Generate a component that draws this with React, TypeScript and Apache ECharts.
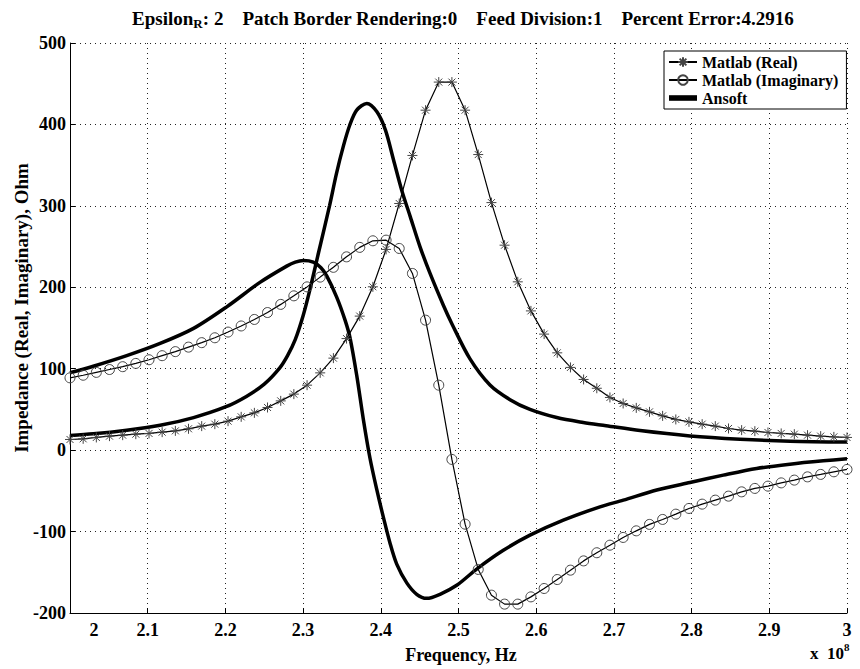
import React, { useEffect, useRef } from 'react';
import * as echarts from 'echarts';

// Frequency (x 1e8 Hz) of the Matlab samples
const matlabFreq = [
  2.0, 2.01695, 2.0339, 2.0508, 2.0678, 2.0847, 2.1017, 2.1186, 2.1356, 2.1525,
  2.1695, 2.1864, 2.2034, 2.2203, 2.2373, 2.2542, 2.2712, 2.2881, 2.3051, 2.322,
  2.339, 2.3559, 2.3729, 2.3898, 2.4068, 2.4237, 2.4407, 2.4576, 2.4746, 2.4915,
  2.5085, 2.5254, 2.5424, 2.5593, 2.5763, 2.5932, 2.6102, 2.6271, 2.6441, 2.661,
  2.678, 2.6949, 2.7119, 2.7288, 2.7458, 2.7627, 2.7797, 2.7966, 2.8136, 2.8305,
  2.8475, 2.8644, 2.8814, 2.8983, 2.9153, 2.9322, 2.9492, 2.9661, 2.9831, 3.0,
];
const matlabReal = [
  13.1, 13.9, 15.6, 17.2, 18.4, 19.6, 20.5, 22.1, 23.7, 26.2,
  29.5, 31.9, 35.6, 40.9, 45.8, 52.4, 60.5, 68.8, 79.8, 94.9,
  113, 137, 164.6, 200.6, 246.5, 302.9, 361.9, 417.5, 452, 452,
  417.5, 363, 304, 251.7, 206.7, 171, 142.5, 119.5, 101.6, 86.8,
  76, 64.7, 57.3, 51.9, 47, 42.1, 37.7, 34.7, 31.9, 29.5,
  26.6, 24.6, 23.3, 21.7, 20.5, 19.6, 18.4, 17.2, 16.3, 15.6,
];
const matlabImag = [
  88.8, 92, 95.5, 99, 102.5, 106.5, 111, 116, 121, 126.5,
  132, 138, 145, 152.5, 160.5, 169, 179, 189.5, 200.5, 212.5,
  224.5, 237.4, 249, 257.1, 257.9, 247.7, 217, 159.6, 79.8, -11.4,
  -90.9, -146.5, -178.1, -189.1, -189.1, -180.2, -169.9, -158.9, -147.4, -136,
  -126, -116.7, -107.2, -99.1, -91.2, -85.1, -78.6, -71.6, -66.3, -61.4,
  -56.5, -51.2, -47, -44.2, -40.2, -36.8, -32.8, -29.8, -26.6, -23.7,
];

const ansoftRealFreq = [
  2.0, 2.03, 2.073, 2.116, 2.159, 2.2, 2.227, 2.25, 2.27, 2.28,
  2.29, 2.3, 2.309, 2.32, 2.334, 2.343, 2.352, 2.36, 2.369, 2.382,
  2.395, 2.406, 2.4165, 2.427, 2.438, 2.4505, 2.4634, 2.4805, 2.4916, 2.5148,
  2.5405, 2.5663, 2.592, 2.6264, 2.6606, 2.69, 2.7336, 2.7979, 2.8623, 2.9266,
  3.0,
];
const ansoftReal = [
  18, 20, 24.5, 30.5, 40, 53, 66, 81, 101, 116,
  136, 165, 198, 243, 300, 340, 374, 399, 417.5, 425.8,
  415.5, 393, 356, 319, 286.5, 249.7, 217, 178, 155, 112,
  80, 62, 50, 40, 34, 30, 24, 17.5, 13.5, 11,
  10,
];
const ansoftImagFreq = [
  2.0, 2.03, 2.073, 2.116, 2.159, 2.2017, 2.2445, 2.2789, 2.29, 2.3003,
  2.3131, 2.323, 2.3304, 2.3432, 2.3539, 2.3604, 2.369, 2.3775, 2.3861, 2.3947,
  2.4032, 2.4118, 2.4205, 2.4334, 2.4462, 2.4591, 2.4762, 2.4977, 2.5234, 2.5577,
  2.592, 2.6349, 2.6821, 2.7121, 2.7551, 2.7979, 2.8408, 2.8838, 2.9266, 2.9695,
  3.0,
];
const ansoftImag = [
  95, 103, 116, 131, 149.5, 176, 206, 226, 231, 233,
  231, 224, 214, 188, 160, 138, 92, 38, -10, -48,
  -82, -114, -140, -163, -177, -182, -177, -166, -146, -123,
  -104.4, -86, -69.6, -61.4, -49, -39.7, -30.7, -22.5, -17.2, -13.1,
  -10.7,
];

const legendNames = ['Matlab (Real)', 'Matlab (Imaginary)', 'Ansoft'];
const titleText = ': 2    Patch Border Rendering:0    Feed Division:1    Percent Error:4.2916';
const xAxisTitle = 'Frequency, Hz';
const yAxisTitle = 'Impedance (Real, Imaginary), Ohm';

const FONT = '"Liberation Serif", "Times New Roman", serif';
const ASTERISK = 'path://M5,0L5,10M0,5L10,5M1.5,1.5L8.5,8.5M1.5,8.5L8.5,1.5';
const BAR = 'path://M0,0L20,0L20,4L0,4Z';

const zip = (xs: number[], ys: number[]) => xs.map((x, i) => [x, ys[i]]);

export default function App() {
  const ref = useRef<HTMLDivElement>(null);
  useEffect(() => {
    if (!ref.current) return;
    const chart = echarts.init(ref.current, undefined, { renderer: 'svg' });
    const axisText = { fontFamily: FONT, fontWeight: 'bold' as const, fontSize: 18, color: '#000' };
    chart.setOption({
      animation: false,
      backgroundColor: '#fff',
      grid: { left: 70, right: 13, top: 43, bottom: 56 },
      xAxis: {
        type: 'value',
        min: 2,
        max: 3,
        interval: 0.1,
        axisLine: { show: true, onZero: false, lineStyle: { color: '#000', width: 1 } },
        axisTick: { show: true, inside: true, length: 5, lineStyle: { color: '#000' } },
        axisLabel: {
          ...axisText,
          margin: 8,
          formatter: (v: number) => {
            const s = String(Math.round(v * 10) / 10);
            return Math.abs(v - 2) < 1e-9 ? '{f|' + s + '}' : s;
          },
          rich: { f: { ...axisText, padding: [0, 0, 0, 48] } },
        },
        splitLine: { show: true, lineStyle: { color: '#222', width: 1, type: [1, 4] } },
      },
      yAxis: {
        type: 'value',
        min: -200,
        max: 500,
        interval: 100,
        axisLine: { show: true, onZero: false, lineStyle: { color: '#000', width: 1 } },
        axisTick: { show: true, inside: true, length: 5, lineStyle: { color: '#000' } },
        axisLabel: { ...axisText, margin: 4 },
        splitLine: { show: true, lineStyle: { color: '#222', width: 1, type: [1, 4] } },
      },
      legend: {
        data: [
          { name: legendNames[0] },
          { name: legendNames[1] },
          { name: legendNames[2], icon: BAR },
        ],
        orient: 'vertical',
        left: 664,
        top: 51,
        itemGap: 2,
        itemWidth: 28,
        itemHeight: 12,
        padding: [3, 8, 3, 4],
        backgroundColor: '#fff',
        borderColor: '#000',
        borderWidth: 1,
        textStyle: { fontFamily: FONT, fontWeight: 'bold', fontSize: 16, color: '#000' },
        selectedMode: false,
      },
      graphic: [
        {
          type: 'text',
          x: 463,
          y: 18,
          style: {
            text: '{a|Epsilon}{s|R}{a|' + titleText + '}',
            align: 'center',
            verticalAlign: 'middle',
            rich: {
              a: { fontFamily: FONT, fontWeight: 'bold', fontSize: 19, lineHeight: 24, color: '#000' },
              s: { fontFamily: FONT, fontWeight: 'bold', fontSize: 13, lineHeight: 11, verticalAlign: 'bottom', color: '#000' },
            },
          },
        },
        {
          type: 'text',
          x: 461,
          y: 655,
          style: { text: xAxisTitle, align: 'center', verticalAlign: 'middle', fontFamily: FONT, fontWeight: 'bold', fontSize: 18, fill: '#000' },
        },
        {
          type: 'text',
          x: 810,
          y: 653,
          style: {
            text: '{a|x  10}{s|8}',
            align: 'left',
            verticalAlign: 'middle',
            rich: {
              a: { fontFamily: FONT, fontWeight: 'bold', fontSize: 17, lineHeight: 24, color: '#000' },
              s: { fontFamily: FONT, fontWeight: 'bold', fontSize: 11, lineHeight: 11, verticalAlign: 'top', color: '#000' },
            },
          },
        },
        {
          type: 'text',
          x: 21,
          y: 308,
          rotation: Math.PI / 2,
          style: { text: yAxisTitle, align: 'center', verticalAlign: 'middle', fontFamily: FONT, fontWeight: 'bold', fontSize: 19, fill: '#000' },
        },
      ],
      series: [
        {
          name: legendNames[0],
          type: 'line',
          data: zip(matlabFreq, matlabReal),
          symbol: ASTERISK,
          symbolSize: 10,
          showAllSymbol: true,
          lineStyle: { color: '#000', width: 1.2 },
          itemStyle: { color: '#444', borderColor: '#444', borderWidth: 1 },
          z: 3,
        },
        {
          name: legendNames[1],
          type: 'line',
          data: zip(matlabFreq, matlabImag),
          symbol: 'circle',
          symbolSize: 10,
          showAllSymbol: true,
          lineStyle: { color: '#000', width: 1.2 },
          itemStyle: { color: 'rgba(0,0,0,0)', borderColor: '#444', borderWidth: 1 },
          z: 3,
        },
        {
          name: legendNames[2],
          type: 'line',
          data: zip(ansoftRealFreq, ansoftReal),
          showSymbol: false,
          symbol: 'none',
          smooth: 0.3,
          lineStyle: { color: '#000', width: 3.5 },
          itemStyle: { color: '#000' },
          z: 2,
        },
        {
          name: legendNames[2],
          type: 'line',
          data: zip(ansoftImagFreq, ansoftImag),
          showSymbol: false,
          symbol: 'none',
          smooth: 0.3,
          lineStyle: { color: '#000', width: 3.5 },
          itemStyle: { color: '#000' },
          z: 2,
        },
      ],
    });
    return () => chart.dispose();
  }, []);
  return <div ref={ref} style={{ width: 860, height: 669, position: 'absolute', left: 0, top: 0 }} />;
}
